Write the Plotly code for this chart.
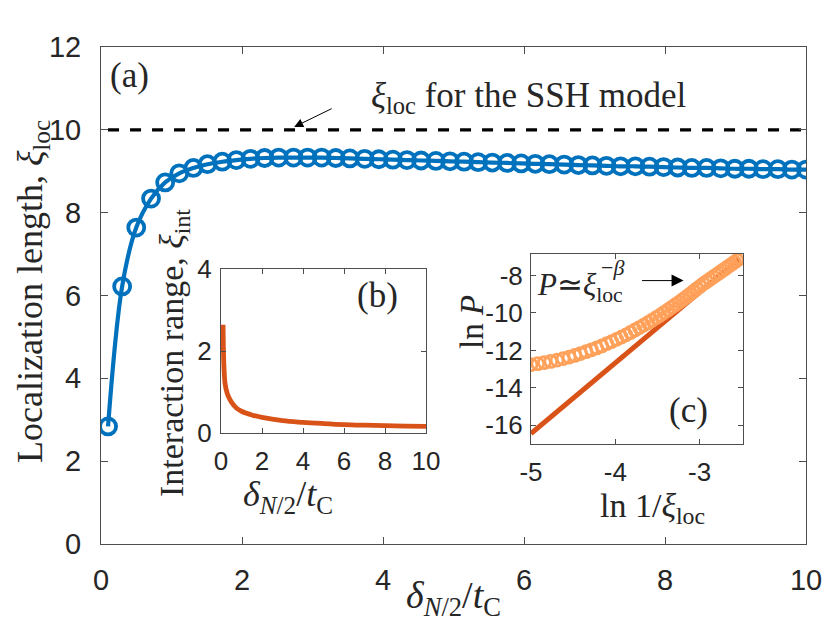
import plotly.graph_objects as go

W, H = 830, 622

# ---------------- data ----------------
# (a) localization length vs delta
delta = [0.10, 0.30, 0.50, 0.71, 0.91, 1.11, 1.31, 1.51, 1.72, 1.92,
         2.12, 2.32, 2.52, 2.73, 2.93, 3.13, 3.33, 3.53, 3.74, 3.94,
         4.14, 4.34, 4.54, 4.75, 4.95, 5.15, 5.35, 5.55, 5.76, 5.96,
         6.16, 6.36, 6.57, 6.77, 6.97, 7.17, 7.37, 7.58, 7.78, 7.98,
         8.18, 8.38, 8.59, 8.79, 8.99, 9.19, 9.39, 9.60, 9.80, 10.00]
xi_loc = [2.84, 6.22, 7.64, 8.34, 8.73, 8.95, 9.08, 9.17, 9.23, 9.27,
          9.30, 9.32, 9.33, 9.33, 9.33, 9.33, 9.32, 9.31, 9.30, 9.29,
          9.28, 9.27, 9.26, 9.25, 9.24, 9.23, 9.22, 9.21, 9.20, 9.19,
          9.18, 9.17, 9.16, 9.15, 9.14, 9.13, 9.12, 9.12, 9.11, 9.10,
          9.09, 9.08, 9.08, 9.07, 9.06, 9.06, 9.05, 9.05, 9.04, 9.04]
ssh_x = [0.1, 10.0]
ssh_y = [10.0, 10.0]

# (b) interaction range vs delta
b_x = [0.10, 0.12, 0.15, 0.20, 0.30, 0.40, 0.50, 0.75, 1.0, 1.5,
       2.0, 3.0, 4.0, 5.0, 6.0, 7.0, 8.0, 9.0, 10.0]
b_y = [2.64, 2.00, 1.55, 1.20, 0.97, 0.85, 0.76, 0.61, 0.53, 0.44,
       0.38, 0.30, 0.26, 0.23, 0.205, 0.19, 0.178, 0.168, 0.16]

# (c) ln P vs ln 1/xi_loc
c_x = [-5.000, -4.919, -4.841, -4.765, -4.691, -4.619, -4.548, -4.480, -4.413, -4.347,
       -4.283, -4.221, -4.160, -4.100, -4.042, -3.984, -3.928, -3.873, -3.819, -3.766,
       -3.714, -3.663, -3.613, -3.564, -3.516, -3.468, -3.422, -3.376, -3.330, -3.286,
       -3.242, -3.199, -3.157, -3.115, -3.074, -3.033, -2.993, -2.954, -2.915, -2.877,
       -2.839, -2.801, -2.765, -2.728, -2.692, -2.657, -2.622, -2.588, -2.554, -2.520]
c_y = [-12.76, -12.71, -12.65, -12.59, -12.52, -12.44, -12.36, -12.27, -12.17, -12.07,
       -11.97, -11.87, -11.76, -11.64, -11.53, -11.41, -11.29, -11.17, -11.04, -10.91,
       -10.78, -10.65, -10.52, -10.39, -10.25, -10.12, -9.98, -9.84, -9.70, -9.56,
       -9.42, -9.28, -9.14, -9.00, -8.85, -8.71, -8.57, -8.44, -8.32, -8.20,
       -8.08, -7.96, -7.85, -7.73, -7.62, -7.51, -7.40, -7.29, -7.18, -7.08]
fit_x = [-5.0, -2.52]
fit_y = [-16.44, -7.08]

main_xticks = [0, 2, 4, 6, 8, 10]
main_yticks = [0, 2, 4, 6, 8, 10, 12]
b_xticks = [0, 2, 4, 6, 8, 10]
b_yticks = [0, 2, 4]
c_xticks = [-5, -4, -3]
c_yticks = [-16, -14, -12, -10, -8]

BLUE = "#0072BD"
ORANGE = "#D95319"
AX = "#262626"
SANS = "Liberation Sans, Arial, sans-serif"
SERIF = "Liberation Serif, Times New Roman, serif"


def px(x):
    return x / W


def py(y):
    return 1 - y / H


fig = go.Figure()

# main panel
fig.add_trace(go.Scatter(x=ssh_x, y=ssh_y, mode="lines",
                         line=dict(color="black", width=3.3, dash="11px,11px"),
                         xaxis="x", yaxis="y", showlegend=False))
fig.add_trace(go.Scatter(x=delta, y=xi_loc, mode="lines+markers",
                         line=dict(color=BLUE, width=4.2, shape="spline"),
                         marker=dict(symbol="circle-open", size=16, opacity=1,
                                     line=dict(color=BLUE, width=3.8)),
                         xaxis="x", yaxis="y", showlegend=False))

# inset b
fig.add_trace(go.Scatter(x=b_x, y=b_y, mode="lines",
                         line=dict(color=ORANGE, width=4.8, shape="spline"),
                         xaxis="x2", yaxis="y2", showlegend=False))

# inset c
fig.add_trace(go.Scatter(x=fit_x, y=fit_y, mode="lines",
                         line=dict(color=ORANGE, width=5),
                         xaxis="x3", yaxis="y3", showlegend=False))
fig.add_trace(go.Scatter(x=c_x, y=c_y, mode="markers",
                         marker=dict(symbol="circle-open", size=12, opacity=1,
                                     line=dict(color=ORANGE, width=2.8)),
                         xaxis="x3", yaxis="y3", showlegend=False))


def axis(domain, rng, ticks, anchor, fs, ticklen, standoff):
    return dict(domain=domain, range=rng, tickvals=ticks,
                ticktext=[str(t) for t in ticks],
                anchor=anchor, showline=True, linecolor="#4d4d4d", linewidth=1,
                mirror="ticks", ticks="inside", ticklen=ticklen, tickcolor="#4d4d4d",
                tickwidth=1, showgrid=False, zeroline=False, automargin=False,
                tickfont=dict(family=SANS, size=fs, color=AX),
                ticklabelstandoff=standoff)


fig.update_layout(
    width=W, height=H,
    margin=dict(l=0, r=0, t=0, b=0, pad=0, autoexpand=False),
    paper_bgcolor="white", plot_bgcolor="white",
    xaxis=axis([px(101), px(806)], [0, 10], main_xticks, "y", 29, 7, 10),
    yaxis=axis([py(544), py(47)], [0, 12], main_yticks, "x", 29, 7, 13),
    xaxis2=axis([px(221), px(426)], [0, 10], b_xticks, "y2", 26, 5, 5),
    yaxis2=axis([py(433), py(269)], [0, 4], b_yticks, "x2", 26, 5, 3),
    xaxis3=axis([px(531), px(743)], [-5, -2.485], c_xticks, "y3", 26, 5, 5),
    yaxis3=axis([py(444), py(254)], [-17, -6.85], c_yticks, "x3", 26, 5, 2),
)

ann = []


def label(text, x, y, size, angle=0, xanchor="center"):
    ann.append(dict(text=text, x=px(x), y=py(y), xref="paper", yref="paper",
                    showarrow=False, xanchor=xanchor, yanchor="middle",
                    textangle=angle, font=dict(family=SERIF, size=size, color=AX)))


label("Localization length, <i>ξ</i><sub>loc</sub>", 32, 292, 36, angle=-90)
label("<i>δ</i><sub><i>N</i>/2</sub>/<i>t</i><sub>C</sub>", 453, 598, 38)
label("Interaction range, <i>ξ</i><sub>int</sub>", 174, 353, 34, angle=-90)
label("<i>δ</i><sub><i>N</i>/2</sub>/<i>t</i><sub>C</sub>", 288, 496, 36)
label("ln <i>P</i>", 472, 322, 33, angle=-90)
label("ln 1/<i>ξ</i><sub>loc</sub>", 652, 508, 34)
label("(a)", 129, 75, 35)
label("(b)", 377, 295, 35)
label("(c)", 688, 410, 35)
label("<i>ξ</i><sub>loc</sub> for the SSH model", 528, 97, 35)
label("<i>P</i>≃<i>ξ</i><sub>loc</sub>", 535, 287, 31, xanchor="left")
label("−<i>β</i>", 599, 267, 22, xanchor="left")

# arrows
ann.append(dict(x=2.74, y=10.07, xref="x", yref="y", text="", showarrow=True,
                ax=39, ay=-19, arrowhead=2, arrowsize=1.8, arrowwidth=1,
                arrowcolor="black"))
ann.append(dict(x=-3.19, y=-8.27, xref="x3", yref="y3", text="", showarrow=True,
                ax=-43, ay=0, arrowhead=2, arrowsize=2.4, arrowwidth=1,
                arrowcolor="black"))

fig.update_layout(annotations=ann)
fig.write_html("out.html", config={"displayModeBar": False},
               post_script="document.body.style.margin='0';document.body.style.padding='0';")
